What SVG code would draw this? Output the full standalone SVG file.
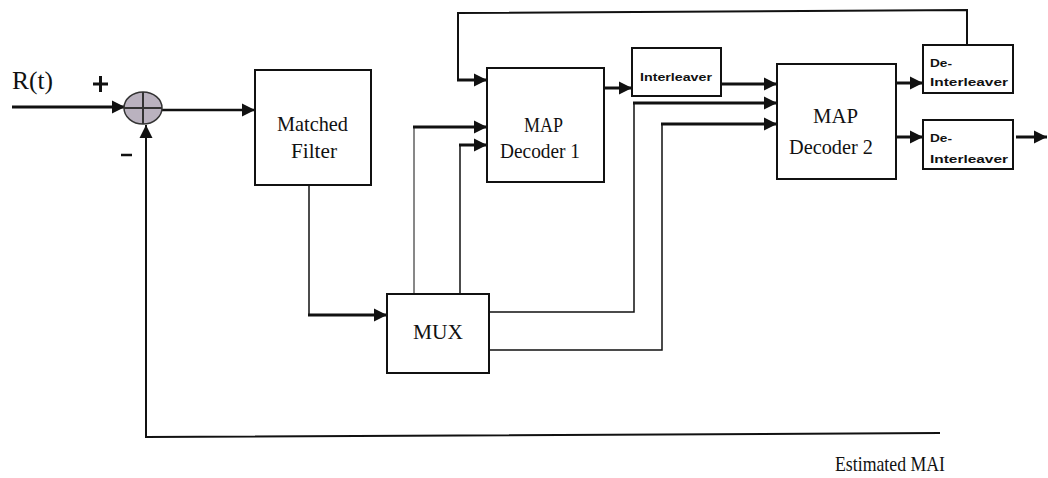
<svg xmlns="http://www.w3.org/2000/svg" width="1048" height="478" viewBox="0 0 1048 478">
<style>
.box{fill:#fff;stroke:#111;stroke-width:2}
.t{font-family:"Liberation Serif","Times New Roman",serif;fill:#111}
.tb{font-family:"Liberation Sans",Arial,sans-serif;font-weight:bold;fill:#111}
.w{fill:none;stroke:#111;stroke-linejoin:miter}
</style>
<defs>
<marker id="ah" markerUnits="userSpaceOnUse" markerWidth="14" markerHeight="14" refX="13" refY="7" orient="auto">
<path d="M0,0.5 L13,7 L0,13.5 z" fill="#111"/>
</marker>
</defs>
<rect width="1048" height="478" fill="#fff"/>
<g id="connectors">
<path class="w" stroke-width="3" d="M12,107 L125,107" marker-end="url(#ah)"/>
<path class="w" stroke-width="2.5" d="M162,110 L255,110" marker-end="url(#ah)"/>
<path class="w" stroke-width="2" d="M940,433 L146,437 L146,125" marker-end="url(#ah)"/>
<path class="w" stroke-width="1.5" d="M309,185 L309,315"/>
<path class="w" stroke-width="3" d="M308,315 L387,315" marker-end="url(#ah)"/>
<path class="w" stroke-width="1" d="M414,294 L414,127"/>
<path class="w" stroke-width="3" d="M413,127 L487,127" marker-end="url(#ah)"/>
<path class="w" stroke-width="1.5" d="M460,294 L460,145"/>
<path class="w" stroke-width="3" d="M459,145 L487,145" marker-end="url(#ah)"/>
<path class="w" stroke-width="2" d="M967,45 L967,10 L458,13 L458,80"/>
<path class="w" stroke-width="3" d="M457,80 L487,80" marker-end="url(#ah)"/>
<path class="w" stroke-width="3" d="M604,88 L632,88" marker-end="url(#ah)"/>
<path class="w" stroke-width="3" d="M721,84 L777,84" marker-end="url(#ah)"/>
<path class="w" stroke-width="1.5" d="M489,312 L634,312 L634,103"/>
<path class="w" stroke-width="3" d="M633,103 L777,103" marker-end="url(#ah)"/>
<path class="w" stroke-width="1.5" d="M489,350 L662,350 L662,124"/>
<path class="w" stroke-width="3" d="M661,124 L777,124" marker-end="url(#ah)"/>
<path class="w" stroke-width="3" d="M896,83 L923,83" marker-end="url(#ah)"/>
<path class="w" stroke-width="3" d="M896,137 L923,137" marker-end="url(#ah)"/>
<path class="w" stroke-width="3" d="M1016,137 L1047,137" marker-end="url(#ah)"/>
</g>
<g id="sum">
<ellipse cx="143" cy="108" rx="19" ry="16" fill="#bab2bf" stroke="#333" stroke-width="1.5"/>
<path d="M124,108 L162,108 M143,92 L143,124" stroke="#333" stroke-width="2" fill="none"/>
</g>
<g id="labels">
<text class="t" x="12" y="89" font-size="25" textLength="41" lengthAdjust="spacingAndGlyphs">R(t)</text>
<path d="M93,84 L108,84 M100.5,76 L100.5,92" stroke="#111" stroke-width="3"/>
<path d="M121,155 L132,155" stroke="#111" stroke-width="2.5"/>
<text class="t" x="835" y="471" font-size="21" textLength="110" lengthAdjust="spacingAndGlyphs">Estimated MAI</text>
</g>
<g id="matched-filter">
<rect class="box" x="255" y="70" width="116" height="115"/>
<text class="t" x="277" y="131" font-size="22" textLength="71" lengthAdjust="spacingAndGlyphs">Matched</text>
<text class="t" x="291" y="158" font-size="22" textLength="46" lengthAdjust="spacingAndGlyphs">Filter</text>
</g>
<g id="mux">
<rect class="box" x="387" y="294" width="102" height="79"/>
<text class="t" x="413" y="339" font-size="22" textLength="50" lengthAdjust="spacingAndGlyphs">MUX</text>
</g>
<g id="map-decoder-1">
<rect class="box" x="487" y="68" width="117" height="114"/>
<text class="t" x="524" y="132" font-size="22" textLength="39" lengthAdjust="spacingAndGlyphs">MAP</text>
<text class="t" x="500" y="158" font-size="22" textLength="80" lengthAdjust="spacingAndGlyphs">Decoder 1</text>
</g>
<g id="interleaver">
<rect class="box" x="632" y="48" width="89" height="48"/>
<text class="tb" x="640" y="81" font-size="10.5" textLength="72" lengthAdjust="spacingAndGlyphs">Interleaver</text>
</g>
<g id="map-decoder-2">
<rect class="box" x="777" y="64" width="119" height="115"/>
<text class="t" x="813" y="123" font-size="22" textLength="45" lengthAdjust="spacingAndGlyphs">MAP</text>
<text class="t" x="789" y="154" font-size="22" textLength="84" lengthAdjust="spacingAndGlyphs">Decoder 2</text>
</g>
<g id="de-interleaver-1">
<rect class="box" x="923" y="45" width="90" height="48"/>
<text class="tb" x="930" y="67" font-size="10.5" textLength="22" lengthAdjust="spacingAndGlyphs">De-</text>
<text class="tb" x="930" y="86" font-size="10.5" textLength="78" lengthAdjust="spacingAndGlyphs">Interleaver</text>
</g>
<g id="de-interleaver-2">
<rect class="box" x="923" y="120" width="90" height="49"/>
<text class="tb" x="930" y="142" font-size="10.5" textLength="22" lengthAdjust="spacingAndGlyphs">De-</text>
<text class="tb" x="930" y="163" font-size="10.5" textLength="78" lengthAdjust="spacingAndGlyphs">Interleaver</text>
</g>
</svg>
